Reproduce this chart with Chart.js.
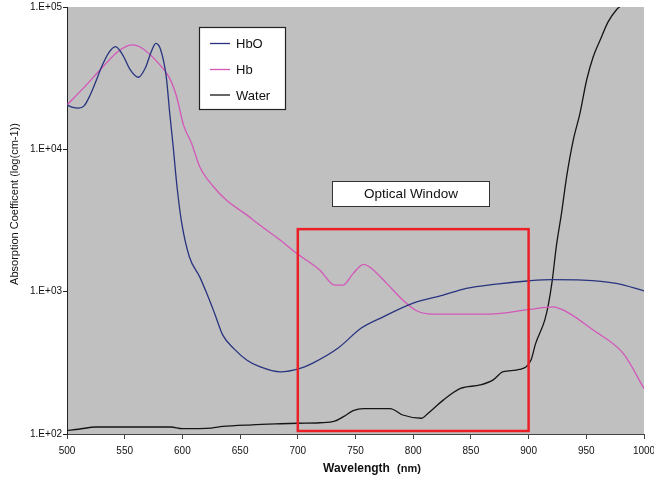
<!DOCTYPE html>
<html>
<head>
<meta charset="utf-8">
<script src="https://cdn.jsdelivr.net/npm/chart.js@4.4.0/dist/chart.umd.min.js"></script>
<style>
  body { margin: 0; background: #fff; }
  #chart { display: block; }
</style>
</head>
<body>
<canvas id="chart" width="654" height="481"></canvas>
<script>
// wavelengths (nm) and absorption values
const hboNm = [500, 505, 510, 515, 520, 525, 530, 536, 542, 548, 555, 562, 568, 573, 577, 581, 586, 589, 592, 595, 599, 606, 615, 621, 628, 635, 645, 656, 667, 685, 702, 713, 735, 755, 774, 800, 826, 846, 872, 901, 920, 947, 976, 1000];
const hboAbs = [20500, 19700, 19500, 20300, 24000, 30000, 38000, 47500, 52600, 46500, 36000, 32100, 37500, 48500, 55600, 50500, 32400, 18000, 10500, 5800, 3180, 1760, 1270, 977, 700, 495, 395, 330, 297, 273, 289, 315, 402, 555, 666, 832, 946, 1055, 1130, 1193, 1215, 1207, 1144, 1014];

const hbNm = [500, 514, 530, 544, 556, 563, 578, 589, 595, 601, 608, 615, 627, 638, 656, 667, 685, 699, 719, 732, 739, 748, 757, 762, 777, 791, 803, 817, 866, 901, 921, 933, 956, 982, 1000];
const hbAbs = [20500, 26800, 37100, 48500, 54100, 52600, 41300, 31500, 23400, 14800, 11000, 7550, 5460, 4400, 3450, 2940, 2300, 1860, 1420, 1110, 1110, 1345, 1556, 1497, 1144, 873, 734, 696, 696, 751, 783, 722, 537, 368, 209];

const waterNm = [500, 510, 525, 590, 600, 625, 635, 660, 685, 700, 719, 732, 740, 748, 757, 780, 791, 807, 813, 826, 841, 858, 869, 878, 892, 902, 906, 914, 917, 920.5, 924, 928.5, 933, 938.7, 944.5, 950.3, 956, 962, 969, 976, 980];
const waterAbs = [106, 108, 112, 112, 109, 110, 113, 116, 118, 119, 120, 123, 133, 146, 151, 151, 136, 129, 140, 173, 209, 221, 239, 274, 284, 330, 430, 631, 800, 1202, 2070, 3550, 6460, 11600, 17900, 30700, 44700, 58600, 78900, 95300, 102000];

const xTicks = [500, 550, 600, 650, 700, 750, 800, 850, 900, 950, 1000];
const yTicks = [100, 1000, 10000, 100000];

// the "optical window" rectangle, in data units
const windowNm = [700, 900];
const windowAbs = [105, 2750];

const FONT = '"Liberation Sans", Arial, sans-serif';

function toPoints(nm, vals) {
  return nm.map((x, i) => ({ x: x, y: vals[i] }));
}

const decor = {
  id: 'decor',
  beforeDraw(chart) {
    const { ctx, chartArea: a } = chart;
    ctx.save();
    ctx.fillStyle = '#fff';
    ctx.fillRect(0, 0, chart.width, chart.height);
    ctx.fillStyle = '#c0c0c0';
    ctx.fillRect(a.left, a.top, a.right - a.left, a.bottom - a.top);
    ctx.restore();
  },
  afterDatasetsDraw(chart) {
    const { ctx, scales: { x, y } } = chart;
    const x0 = x.getPixelForValue(windowNm[0]);
    const x1 = x.getPixelForValue(windowNm[1]);
    const y0 = y.getPixelForValue(windowAbs[1]);
    const y1 = y.getPixelForValue(windowAbs[0]);
    ctx.save();
    ctx.strokeStyle = '#ec1f27';
    ctx.lineWidth = 2.5;
    ctx.strokeRect(x0, y0, x1 - x0, y1 - y0);
    ctx.restore();
  },
  afterDraw(chart) {
    const ctx = chart.ctx;
    ctx.save();

    // legend
    ctx.fillStyle = '#fff';
    ctx.fillRect(199.5, 27.5, 86, 82);
    ctx.strokeStyle = '#222';
    ctx.lineWidth = 1.2;
    ctx.strokeRect(199.5, 27.5, 86, 82);
    ctx.font = '13px ' + FONT;
    ctx.textBaseline = 'middle';
    ctx.textAlign = 'left';
    const rows = [43.5, 69.5, 95];
    chart.data.datasets.forEach((ds, i) => {
      ctx.strokeStyle = ds.borderColor;
      ctx.lineWidth = 1.3;
      ctx.beginPath();
      ctx.moveTo(210, rows[i]);
      ctx.lineTo(230, rows[i]);
      ctx.stroke();
      ctx.fillStyle = '#111';
      ctx.fillText(ds.label, 236, rows[i] + 1);
    });

    // optical window label
    ctx.fillStyle = '#fff';
    ctx.fillRect(332.5, 181.5, 157, 25);
    ctx.strokeStyle = '#333';
    ctx.lineWidth = 1;
    ctx.strokeRect(332.5, 181.5, 157, 25);
    ctx.fillStyle = '#111';
    ctx.font = '13.5px ' + FONT;
    ctx.textAlign = 'center';
    ctx.fillText('Optical Window', 411, 194.5);

    // axis titles
    ctx.font = 'bold 12px ' + FONT;
    ctx.textAlign = 'left';
    ctx.fillText('Wavelength', 323, 469);
    ctx.font = 'bold 11px ' + FONT;
    ctx.fillText('(nm)', 397, 469);

    ctx.translate(15, 204);
    ctx.rotate(-Math.PI / 2);
    ctx.font = '11px ' + FONT;
    ctx.textAlign = 'center';
    ctx.fillText('Absorption Coefficent (log(cm-1))', 0, 0);
    ctx.restore();
  }
};

new Chart(document.getElementById('chart'), {
  type: 'line',
  data: {
    datasets: [
      { label: 'HbO', data: toPoints(hboNm, hboAbs), borderColor: '#28347f' },
      { label: 'Hb', data: toPoints(hbNm, hbAbs), borderColor: '#d357b9' },
      { label: 'Water', data: toPoints(waterNm, waterAbs), borderColor: '#151515' }
    ]
  },
  options: {
    responsive: false,
    animation: false,
    devicePixelRatio: 1,
    layout: { padding: { top: 7, right: 10, left: 0, bottom: 0 } },
    elements: {
      line: { borderWidth: 1.3, cubicInterpolationMode: 'monotone', fill: false },
      point: { radius: 0 }
    },
    plugins: {
      legend: { display: false },
      tooltip: { enabled: false }
    },
    scales: {
      x: {
        type: 'linear',
        min: 500,
        max: 1000,
        afterBuildTicks: s => { s.ticks = xTicks.map(v => ({ value: v })); },
        afterFit: s => { s.height = 47; s.paddingLeft = 0; s.paddingRight = 0; },
        ticks: {
          color: '#111',
          font: { family: FONT, size: 10 },
          padding: 6,
          maxRotation: 0,
          callback: v => String(v)
        },
        grid: { drawOnChartArea: false, tickLength: 5, color: '#444' },
        border: { color: '#444' }
      },
      y: {
        type: 'logarithmic',
        min: 100,
        max: 100000,
        afterBuildTicks: s => { s.ticks = yTicks.map(v => ({ value: v })); },
        afterFit: s => { s.width = 67; s.paddingTop = 0; s.paddingBottom = 0; },
        ticks: {
          color: '#111',
          font: { family: FONT, size: 10 },
          padding: 1,
          callback: v => '1.E+0' + Math.round(Math.log10(v))
        },
        grid: { drawOnChartArea: false, tickLength: 4, color: '#222' },
        border: { color: '#222' }
      }
    }
  },
  plugins: [decor]
});
</script>
</body>
</html>
